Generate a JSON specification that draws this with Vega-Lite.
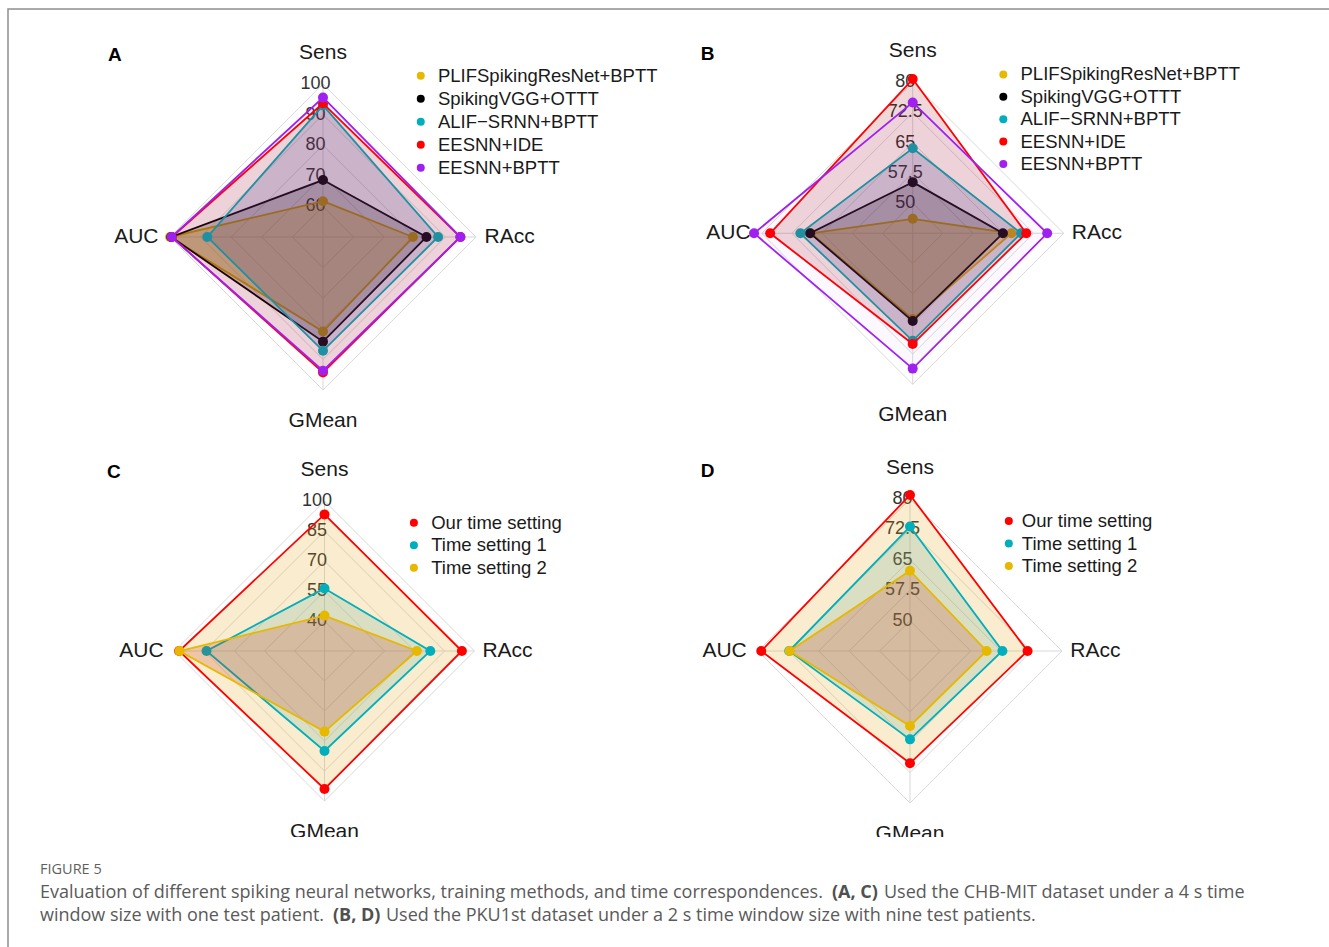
{
  "$schema": "https://vega.github.io/schema/vega-lite/v6.json",
  "width": 1343,
  "height": 959,
  "autosize": {"type": "none"},
  "padding": {"left": 8, "top": 9, "right": -22, "bottom": -21},
  "background": "white",
  "config": {
    "view": {"stroke": "#8f8f8f", "strokeWidth": 1.5},
    "text": {"font": "Liberation Sans"}
  },
  "datasets": {
    "radar": [
      {"panel": "A", "series": "ring", "tick": 60},
      {"panel": "A", "series": "ring", "tick": 70},
      {"panel": "A", "series": "ring", "tick": 80},
      {"panel": "A", "series": "ring", "tick": 90},
      {"panel": "A", "series": "ring", "tick": 100},
      {"panel": "A", "series": "PLIFSpikingResNet+BPTT", "Sens": 61.7, "RAcc": 79.4, "GMean": 80.9, "AUC": 100},
      {"panel": "A", "series": "SpikingVGG+OTTT", "Sens": 68.6, "RAcc": 83.8, "GMean": 84.2, "AUC": 99.6},
      {"panel": "A", "series": "ALIF−SRNN+BPTT", "Sens": 93.0, "RAcc": 87.6, "GMean": 87.2, "AUC": 87.8},
      {"panel": "A", "series": "EESNN+IDE", "Sens": 93.7, "RAcc": 94.9, "GMean": 94.3, "AUC": 99.4},
      {"panel": "A", "series": "EESNN+BPTT", "Sens": 95.6, "RAcc": 94.9, "GMean": 93.7, "AUC": 99.5},
      {"panel": "B", "series": "ring", "tick": 50},
      {"panel": "B", "series": "ring", "tick": 57.5},
      {"panel": "B", "series": "ring", "tick": 65},
      {"panel": "B", "series": "ring", "tick": 72.5},
      {"panel": "B", "series": "ring", "tick": 80},
      {"panel": "B", "series": "PLIFSpikingResNet+BPTT", "Sens": 46.1, "RAcc": 67.0, "GMean": 63.8, "AUC": 67.8},
      {"panel": "B", "series": "SpikingVGG+OTTT", "Sens": 55.2, "RAcc": 64.9, "GMean": 64.3, "AUC": 68.0},
      {"panel": "B", "series": "ALIF−SRNN+BPTT", "Sens": 63.6, "RAcc": 69.4, "GMean": 69.2, "AUC": 70.4},
      {"panel": "B", "series": "EESNN+IDE", "Sens": 80.8, "RAcc": 70.7, "GMean": 70.0, "AUC": 77.9},
      {"panel": "B", "series": "EESNN+BPTT", "Sens": 75.0, "RAcc": 75.9, "GMean": 76.1, "AUC": 81.9},
      {"panel": "C", "series": "ring", "tick": 40},
      {"panel": "C", "series": "ring", "tick": 55},
      {"panel": "C", "series": "ring", "tick": 70},
      {"panel": "C", "series": "ring", "tick": 85},
      {"panel": "C", "series": "ring", "tick": 100},
      {"panel": "C", "series": "Our time setting", "Sens": 93.3, "RAcc": 93.7, "GMean": 94.0, "AUC": 97.7},
      {"panel": "C", "series": "Time setting 1", "Sens": 56.3, "RAcc": 77.9, "GMean": 75.0, "AUC": 84.0},
      {"panel": "C", "series": "Time setting 2", "Sens": 42.7, "RAcc": 71.2, "GMean": 65.3, "AUC": 97.5},
      {"panel": "D", "series": "ring", "tick": 50},
      {"panel": "D", "series": "ring", "tick": 57.5},
      {"panel": "D", "series": "ring", "tick": 65},
      {"panel": "D", "series": "ring", "tick": 72.5},
      {"panel": "D", "series": "ring", "tick": 80},
      {"panel": "D", "series": "Our time setting", "Sens": 81.0, "RAcc": 71.5, "GMean": 70.2, "AUC": 79.2},
      {"panel": "D", "series": "Time setting 1", "Sens": 73.2, "RAcc": 65.3, "GMean": 64.3, "AUC": 72.3},
      {"panel": "D", "series": "Time setting 2", "Sens": 62.3, "RAcc": 61.4, "GMean": 61.0, "AUC": 72.2}
    ],
    "caption": [
      {"line": 0, "part": "a", "text": "FIGURE 5"},
      {"line": 1, "part": "a", "text": "Evaluation of different spiking neural networks, training methods, and time correspondences."},
      {"line": 1, "part": "b", "text": "(A, C)"},
      {"line": 1, "part": "c", "text": "Used the CHB-MIT dataset under a 4 s time"},
      {"line": 2, "part": "a", "text": "window size with one test patient."},
      {"line": 2, "part": "b", "text": "(B, D)"},
      {"line": 2, "part": "c", "text": "Used the PKU1st dataset under a 2 s time window size with nine test patients."}
    ]
  },
  "data": {"name": "radar"},
  "transform": [
    {"fold": ["Sens", "RAcc", "GMean", "AUC"], "as": ["metric", "v"]},
    {"calculate": "datum.series == 'ring' ? datum.tick : datum.v", "as": "value"},
    {"calculate": "indexof(['Sens','RAcc','GMean','AUC'], datum.metric)", "as": "k"},
    {"calculate": "datum.metric == 'RAcc' ? 1 : datum.metric == 'AUC' ? -1 : 0", "as": "dx"},
    {"calculate": "datum.metric == 'Sens' ? 1 : datum.metric == 'GMean' ? -1 : 0", "as": "dy"},
    {"calculate": "datum.dx * 1.22", "as": "lx"},
    {"calculate": "datum.dy * 1.205", "as": "ly"},
    {"calculate": "indexof(['PLIFSpikingResNet+BPTT','SpikingVGG+OTTT','ALIF−SRNN+BPTT','EESNN+IDE','EESNN+BPTT','Our time setting','Time setting 1','Time setting 2'], datum.series) % 5", "as": "rank"}
  ],
  "resolve": {
    "scale": {"x": "independent", "y": "independent", "color": "independent", "fill": "independent", "stroke": "independent"}
  },
  "layer": [
    {
      "transform": [
        {"filter": "datum.panel == 'A'"},
        {"calculate": "(datum.value - 50) / 50", "as": "r"},
        {"calculate": "datum.dx * datum.r", "as": "px"},
        {"calculate": "datum.dy * datum.r", "as": "py"},
        {"calculate": "1.054 - 0.1503 * datum.rank", "as": "legy"}
      ],
      "encoding": {
        "x": {"field": "px", "type": "quantitative", "scale": {"domain": [-2.0588, 6.719], "nice": false, "zero": false}, "axis": null},
        "y": {"field": "py", "type": "quantitative", "scale": {"domain": [-4.7778, 1.4902], "nice": false, "zero": false}, "axis": null}
      },
      "layer": [
        {"transform": [{"filter": "datum.series == 'ring'"}], "mark": {"type": "line", "interpolate": "linear-closed", "stroke": "#d9d9d9", "strokeWidth": 1}, "encoding": {"detail": {"field": "tick", "type": "nominal"}, "order": {"field": "k", "type": "quantitative"}}},
        {"transform": [{"filter": "datum.series == 'ring' && datum.tick == 100"}], "mark": {"type": "rule", "stroke": "#d9d9d9", "strokeWidth": 1}, "encoding": {"x2": {"datum": 0}, "y2": {"datum": 0}}},
        {"transform": [{"filter": "datum.series == 'ring' && datum.metric == 'Sens'"}], "mark": {"type": "text", "dx": -7.5, "fontSize": 18, "fill": "#333333", "align": "center", "baseline": "middle"}, "encoding": {"text": {"field": "tick", "type": "nominal"}}},
        {"transform": [{"filter": "datum.series == 'ring' && datum.tick == 100"}], "mark": {"type": "text", "fontSize": 21, "fill": "#1a1a1a", "align": "center", "baseline": "middle"}, "encoding": {"x": {"field": "lx", "type": "quantitative"}, "y": {"field": "ly", "type": "quantitative"}, "text": {"field": "metric", "type": "nominal"}}},
        {"transform": [{"filter": "datum.series == 'ring' && datum.tick == 100 && datum.metric == 'Sens'"}], "mark": {"type": "text", "fontSize": 19, "fontWeight": "bold", "fill": "#000000", "align": "center", "baseline": "middle"}, "encoding": {"x": {"datum": -1.36}, "y": {"datum": 1.19}, "text": {"value": "A"}}},

        {"transform": [{"filter": "datum.series == 'PLIFSpikingResNet+BPTT'"}], "mark": {"type": "line", "interpolate": "linear-closed", "strokeWidth": 1.8},
         "encoding": {"order": {"field": "k", "type": "quantitative"},
          "stroke": {"field": "series", "type": "nominal", "scale": {"domain": ["PLIFSpikingResNet+BPTT", "SpikingVGG+OTTT", "ALIF−SRNN+BPTT", "EESNN+IDE", "EESNN+BPTT"], "range": ["#E7B800", "#000000", "#00AFBB", "#FF0000", "#A020F0"]}, "legend": null},
          "fill": {"field": "series", "type": "nominal", "scale": {"domain": ["PLIFSpikingResNet+BPTT", "SpikingVGG+OTTT", "ALIF−SRNN+BPTT", "EESNN+IDE", "EESNN+BPTT"], "range": ["rgba(255,191,0,0.3)", "rgba(0,0,0,0.22)", "rgba(50,70,160,0.2)", "rgba(160,10,10,0.16)", "rgba(160,32,240,0.03)"]}, "legend": null}}},
        {"transform": [{"filter": "datum.series == 'PLIFSpikingResNet+BPTT'"}], "mark": {"type": "point", "filled": true, "size": 100, "opacity": 1},
         "encoding": {"color": {"field": "series", "type": "nominal", "scale": {"domain": ["PLIFSpikingResNet+BPTT", "SpikingVGG+OTTT", "ALIF−SRNN+BPTT", "EESNN+IDE", "EESNN+BPTT"], "range": ["#E7B800", "#000000", "#00AFBB", "#FF0000", "#A020F0"]}, "legend": null}}},

        {"transform": [{"filter": "datum.series == 'SpikingVGG+OTTT'"}], "mark": {"type": "line", "interpolate": "linear-closed", "strokeWidth": 1.8},
         "encoding": {"order": {"field": "k", "type": "quantitative"}, "stroke": {"field": "series", "type": "nominal", "legend": null}, "fill": {"field": "series", "type": "nominal", "legend": null}}},
        {"transform": [{"filter": "datum.series == 'SpikingVGG+OTTT'"}], "mark": {"type": "point", "filled": true, "size": 100, "opacity": 1}, "encoding": {"color": {"field": "series", "type": "nominal", "legend": null}}},

        {"transform": [{"filter": "datum.series == 'ALIF−SRNN+BPTT'"}], "mark": {"type": "line", "interpolate": "linear-closed", "strokeWidth": 1.8},
         "encoding": {"order": {"field": "k", "type": "quantitative"}, "stroke": {"field": "series", "type": "nominal", "legend": null}, "fill": {"field": "series", "type": "nominal", "legend": null}}},
        {"transform": [{"filter": "datum.series == 'ALIF−SRNN+BPTT'"}], "mark": {"type": "point", "filled": true, "size": 100, "opacity": 1}, "encoding": {"color": {"field": "series", "type": "nominal", "legend": null}}},

        {"transform": [{"filter": "datum.series == 'EESNN+IDE'"}], "mark": {"type": "line", "interpolate": "linear-closed", "strokeWidth": 1.8},
         "encoding": {"order": {"field": "k", "type": "quantitative"}, "stroke": {"field": "series", "type": "nominal", "legend": null}, "fill": {"field": "series", "type": "nominal", "legend": null}}},
        {"transform": [{"filter": "datum.series == 'EESNN+IDE'"}], "mark": {"type": "point", "filled": true, "size": 100, "opacity": 1}, "encoding": {"color": {"field": "series", "type": "nominal", "legend": null}}},

        {"transform": [{"filter": "datum.series == 'EESNN+BPTT'"}], "mark": {"type": "line", "interpolate": "linear-closed", "strokeWidth": 1.8},
         "encoding": {"order": {"field": "k", "type": "quantitative"}, "stroke": {"field": "series", "type": "nominal", "legend": null}, "fill": {"field": "series", "type": "nominal", "legend": null}}},
        {"transform": [{"filter": "datum.series == 'EESNN+BPTT'"}], "mark": {"type": "point", "filled": true, "size": 100, "opacity": 1}, "encoding": {"color": {"field": "series", "type": "nominal", "legend": null}}},

        {"transform": [{"filter": "datum.series != 'ring' && datum.metric == 'Sens'"}], "mark": {"type": "point", "filled": true, "size": 64, "opacity": 1},
         "encoding": {"x": {"datum": 0.639}, "y": {"field": "legy", "type": "quantitative"}, "color": {"field": "series", "type": "nominal", "legend": null}}},
        {"transform": [{"filter": "datum.series != 'ring' && datum.metric == 'Sens'"}], "mark": {"type": "text", "dx": 17.2, "fontSize": 18.5, "fill": "#1a1a1a", "align": "left", "baseline": "middle"},
         "encoding": {"x": {"datum": 0.639}, "y": {"field": "legy", "type": "quantitative"}, "text": {"field": "series", "type": "nominal"}}}
      ]
    },
    {
      "transform": [
        {"filter": "datum.panel == 'B'"},
        {"calculate": "(datum.value - 42.5) / 37.5", "as": "r"},
        {"calculate": "datum.dx * datum.r", "as": "px"},
        {"calculate": "datum.dy * datum.r", "as": "py"},
        {"calculate": "1.052 - 0.1483 * datum.rank", "as": "legy"}
      ],
      "encoding": {
        "x": {"field": "px", "type": "quantitative", "scale": {"domain": [-5.9914, 2.9026], "nice": false, "zero": false}, "axis": null},
        "y": {"field": "py", "type": "quantitative", "scale": {"domain": [-4.8656, 1.4854], "nice": false, "zero": false}, "axis": null}
      },
      "layer": [
        {"transform": [{"filter": "datum.series == 'ring'"}], "mark": {"type": "line", "interpolate": "linear-closed", "stroke": "#d9d9d9", "strokeWidth": 1}, "encoding": {"detail": {"field": "tick", "type": "nominal"}, "order": {"field": "k", "type": "quantitative"}}},
        {"transform": [{"filter": "datum.series == 'ring' && datum.tick == 80"}], "mark": {"type": "rule", "stroke": "#d9d9d9", "strokeWidth": 1}, "encoding": {"x2": {"datum": 0}, "y2": {"datum": 0}}},
        {"transform": [{"filter": "datum.series == 'ring' && datum.metric == 'Sens'"}], "mark": {"type": "text", "dx": -7.5, "fontSize": 18, "fill": "#333333", "align": "center", "baseline": "middle"}, "encoding": {"text": {"field": "tick", "type": "nominal"}}},
        {"transform": [{"filter": "datum.series == 'ring' && datum.tick == 80"}], "mark": {"type": "text", "fontSize": 21, "fill": "#1a1a1a", "align": "center", "baseline": "middle"}, "encoding": {"x": {"field": "lx", "type": "quantitative"}, "y": {"field": "ly", "type": "quantitative"}, "text": {"field": "metric", "type": "nominal"}}},
        {"transform": [{"filter": "datum.series == 'ring' && datum.tick == 80 && datum.metric == 'Sens'"}], "mark": {"type": "text", "fontSize": 19, "fontWeight": "bold", "fill": "#000000", "align": "center", "baseline": "middle"}, "encoding": {"x": {"datum": -1.358}, "y": {"datum": 1.187}, "text": {"value": "B"}}},

        {"transform": [{"filter": "datum.series == 'PLIFSpikingResNet+BPTT'"}], "mark": {"type": "line", "interpolate": "linear-closed", "strokeWidth": 1.8},
         "encoding": {"order": {"field": "k", "type": "quantitative"},
          "stroke": {"field": "series", "type": "nominal", "scale": {"domain": ["PLIFSpikingResNet+BPTT", "SpikingVGG+OTTT", "ALIF−SRNN+BPTT", "EESNN+IDE", "EESNN+BPTT"], "range": ["#E7B800", "#000000", "#00AFBB", "#FF0000", "#A020F0"]}, "legend": null},
          "fill": {"field": "series", "type": "nominal", "scale": {"domain": ["PLIFSpikingResNet+BPTT", "SpikingVGG+OTTT", "ALIF−SRNN+BPTT", "EESNN+IDE", "EESNN+BPTT"], "range": ["rgba(255,191,0,0.3)", "rgba(0,0,0,0.22)", "rgba(50,70,160,0.2)", "rgba(160,10,10,0.16)", "rgba(160,32,240,0.03)"]}, "legend": null}}},
        {"transform": [{"filter": "datum.series == 'PLIFSpikingResNet+BPTT'"}], "mark": {"type": "point", "filled": true, "size": 100, "opacity": 1},
         "encoding": {"color": {"field": "series", "type": "nominal", "scale": {"domain": ["PLIFSpikingResNet+BPTT", "SpikingVGG+OTTT", "ALIF−SRNN+BPTT", "EESNN+IDE", "EESNN+BPTT"], "range": ["#E7B800", "#000000", "#00AFBB", "#FF0000", "#A020F0"]}, "legend": null}}},

        {"transform": [{"filter": "datum.series == 'SpikingVGG+OTTT'"}], "mark": {"type": "line", "interpolate": "linear-closed", "strokeWidth": 1.8},
         "encoding": {"order": {"field": "k", "type": "quantitative"}, "stroke": {"field": "series", "type": "nominal", "legend": null}, "fill": {"field": "series", "type": "nominal", "legend": null}}},
        {"transform": [{"filter": "datum.series == 'SpikingVGG+OTTT'"}], "mark": {"type": "point", "filled": true, "size": 100, "opacity": 1}, "encoding": {"color": {"field": "series", "type": "nominal", "legend": null}}},

        {"transform": [{"filter": "datum.series == 'ALIF−SRNN+BPTT'"}], "mark": {"type": "line", "interpolate": "linear-closed", "strokeWidth": 1.8},
         "encoding": {"order": {"field": "k", "type": "quantitative"}, "stroke": {"field": "series", "type": "nominal", "legend": null}, "fill": {"field": "series", "type": "nominal", "legend": null}}},
        {"transform": [{"filter": "datum.series == 'ALIF−SRNN+BPTT'"}], "mark": {"type": "point", "filled": true, "size": 100, "opacity": 1}, "encoding": {"color": {"field": "series", "type": "nominal", "legend": null}}},

        {"transform": [{"filter": "datum.series == 'EESNN+IDE'"}], "mark": {"type": "line", "interpolate": "linear-closed", "strokeWidth": 1.8},
         "encoding": {"order": {"field": "k", "type": "quantitative"}, "stroke": {"field": "series", "type": "nominal", "legend": null}, "fill": {"field": "series", "type": "nominal", "legend": null}}},
        {"transform": [{"filter": "datum.series == 'EESNN+IDE'"}], "mark": {"type": "point", "filled": true, "size": 100, "opacity": 1}, "encoding": {"color": {"field": "series", "type": "nominal", "legend": null}}},

        {"transform": [{"filter": "datum.series == 'EESNN+BPTT'"}], "mark": {"type": "line", "interpolate": "linear-closed", "strokeWidth": 1.8},
         "encoding": {"order": {"field": "k", "type": "quantitative"}, "stroke": {"field": "series", "type": "nominal", "legend": null}, "fill": {"field": "series", "type": "nominal", "legend": null}}},
        {"transform": [{"filter": "datum.series == 'EESNN+BPTT'"}], "mark": {"type": "point", "filled": true, "size": 100, "opacity": 1}, "encoding": {"color": {"field": "series", "type": "nominal", "legend": null}}},

        {"transform": [{"filter": "datum.series != 'ring' && datum.metric == 'Sens'"}], "mark": {"type": "point", "filled": true, "size": 64, "opacity": 1},
         "encoding": {"x": {"datum": 0.6}, "y": {"field": "legy", "type": "quantitative"}, "color": {"field": "series", "type": "nominal", "legend": null}}},
        {"transform": [{"filter": "datum.series != 'ring' && datum.metric == 'Sens'"}], "mark": {"type": "text", "dx": 17.2, "fontSize": 18.5, "fill": "#1a1a1a", "align": "left", "baseline": "middle"},
         "encoding": {"x": {"datum": 0.6}, "y": {"field": "legy", "type": "quantitative"}, "text": {"field": "series", "type": "nominal"}}}
      ]
    },
    {
      "transform": [
        {"filter": "datum.panel == 'C'"},
        {"calculate": "(datum.value - 25) / 75", "as": "r"},
        {"calculate": "datum.dx * datum.r", "as": "px"},
        {"calculate": "datum.dy * datum.r", "as": "py"},
        {"calculate": "0.855 - 0.15 * datum.rank", "as": "legy"}
      ],
      "encoding": {
        "x": {"field": "px", "type": "quantitative", "scale": {"domain": [-2.11, 6.8433], "nice": false, "zero": false}, "axis": null},
        "y": {"field": "py", "type": "quantitative", "scale": {"domain": [-2.1133, 4.28], "nice": false, "zero": false}, "axis": null}
      },
      "layer": [
        {"transform": [{"filter": "datum.series == 'ring'"}], "mark": {"type": "line", "interpolate": "linear-closed", "stroke": "#d9d9d9", "strokeWidth": 1}, "encoding": {"detail": {"field": "tick", "type": "nominal"}, "order": {"field": "k", "type": "quantitative"}}},
        {"transform": [{"filter": "datum.series == 'ring' && datum.tick == 100"}], "mark": {"type": "rule", "stroke": "#d9d9d9", "strokeWidth": 1}, "encoding": {"x2": {"datum": 0}, "y2": {"datum": 0}}},
        {"transform": [{"filter": "datum.series == 'ring' && datum.metric == 'Sens'"}], "mark": {"type": "text", "dx": -7.5, "fontSize": 18, "fill": "#333333", "align": "center", "baseline": "middle"}, "encoding": {"text": {"field": "tick", "type": "nominal"}}},
        {"transform": [{"filter": "datum.series == 'ring' && datum.tick == 100"}], "mark": {"type": "text", "fontSize": 21, "fill": "#1a1a1a", "align": "center", "baseline": "middle"}, "encoding": {"x": {"field": "lx", "type": "quantitative"}, "y": {"field": "ly", "type": "quantitative"}, "text": {"field": "metric", "type": "nominal"}}},
        {"transform": [{"filter": "datum.series == 'ring' && datum.tick == 100 && datum.metric == 'Sens'"}], "mark": {"type": "text", "fontSize": 19, "fontWeight": "bold", "fill": "#000000", "align": "center", "baseline": "middle"}, "encoding": {"x": {"datum": -1.405}, "y": {"datum": 1.195}, "text": {"value": "C"}}},

        {"transform": [{"filter": "datum.series == 'Our time setting'"}], "mark": {"type": "line", "interpolate": "linear-closed", "strokeWidth": 1.8},
         "encoding": {"order": {"field": "k", "type": "quantitative"},
          "stroke": {"field": "series", "type": "nominal", "scale": {"domain": ["Our time setting", "Time setting 1", "Time setting 2"], "range": ["#FF0000", "#00AFBB", "#E7B800"]}, "legend": null},
          "fill": {"field": "series", "type": "nominal", "scale": {"domain": ["Our time setting", "Time setting 1", "Time setting 2"], "range": ["rgba(230,160,10,0.2)", "rgba(90,176,156,0.2)", "rgba(195,45,15,0.2)"]}, "legend": null}}},
        {"transform": [{"filter": "datum.series == 'Our time setting'"}], "mark": {"type": "point", "filled": true, "size": 100, "opacity": 1},
         "encoding": {"color": {"field": "series", "type": "nominal", "scale": {"domain": ["Our time setting", "Time setting 1", "Time setting 2"], "range": ["#FF0000", "#00AFBB", "#E7B800"]}, "legend": null}}},

        {"transform": [{"filter": "datum.series == 'Time setting 1'"}], "mark": {"type": "line", "interpolate": "linear-closed", "strokeWidth": 1.8},
         "encoding": {"order": {"field": "k", "type": "quantitative"}, "stroke": {"field": "series", "type": "nominal", "legend": null}, "fill": {"field": "series", "type": "nominal", "legend": null}}},
        {"transform": [{"filter": "datum.series == 'Time setting 1'"}], "mark": {"type": "point", "filled": true, "size": 100, "opacity": 1}, "encoding": {"color": {"field": "series", "type": "nominal", "legend": null}}},

        {"transform": [{"filter": "datum.series == 'Time setting 2'"}], "mark": {"type": "line", "interpolate": "linear-closed", "strokeWidth": 1.8},
         "encoding": {"order": {"field": "k", "type": "quantitative"}, "stroke": {"field": "series", "type": "nominal", "legend": null}, "fill": {"field": "series", "type": "nominal", "legend": null}}},
        {"transform": [{"filter": "datum.series == 'Time setting 2'"}], "mark": {"type": "point", "filled": true, "size": 100, "opacity": 1}, "encoding": {"color": {"field": "series", "type": "nominal", "legend": null}}},

        {"transform": [{"filter": "datum.series != 'ring' && datum.metric == 'Sens'"}], "mark": {"type": "point", "filled": true, "size": 64, "opacity": 1},
         "encoding": {"x": {"datum": 0.596}, "y": {"field": "legy", "type": "quantitative"}, "color": {"field": "series", "type": "nominal", "legend": null}}},
        {"transform": [{"filter": "datum.series != 'ring' && datum.metric == 'Sens'"}], "mark": {"type": "text", "dx": 17.3, "fontSize": 18.5, "fill": "#1a1a1a", "align": "left", "baseline": "middle"},
         "encoding": {"x": {"datum": 0.596}, "y": {"field": "legy", "type": "quantitative"}, "text": {"field": "series", "type": "nominal"}}}
      ]
    },
    {
      "transform": [
        {"filter": "datum.panel == 'D'"},
        {"calculate": "(datum.value - 42.5) / 37.5", "as": "r"},
        {"calculate": "datum.dx * datum.r", "as": "px"},
        {"calculate": "datum.dy * datum.r", "as": "py"},
        {"calculate": "0.855 - 0.148 * datum.rank", "as": "legy"}
      ],
      "encoding": {
        "x": {"field": "px", "type": "quantitative", "scale": {"domain": [-5.9342, 2.9013], "nice": false, "zero": false}, "axis": null},
        "y": {"field": "py", "type": "quantitative", "scale": {"domain": [-2.0855, 4.2237], "nice": false, "zero": false}, "axis": null}
      },
      "layer": [
        {"transform": [{"filter": "datum.series == 'ring'"}], "mark": {"type": "line", "interpolate": "linear-closed", "stroke": "#d9d9d9", "strokeWidth": 1}, "encoding": {"detail": {"field": "tick", "type": "nominal"}, "order": {"field": "k", "type": "quantitative"}}},
        {"transform": [{"filter": "datum.series == 'ring' && datum.tick == 80"}], "mark": {"type": "rule", "stroke": "#d9d9d9", "strokeWidth": 1}, "encoding": {"x2": {"datum": 0}, "y2": {"datum": 0}}},
        {"transform": [{"filter": "datum.series == 'ring' && datum.metric == 'Sens'"}], "mark": {"type": "text", "dx": -7.5, "fontSize": 18, "fill": "#333333", "align": "center", "baseline": "middle"}, "encoding": {"text": {"field": "tick", "type": "nominal"}}},
        {"transform": [{"filter": "datum.series == 'ring' && datum.tick == 80"}], "mark": {"type": "text", "fontSize": 21, "fill": "#1a1a1a", "align": "center", "baseline": "middle"}, "encoding": {"x": {"field": "lx", "type": "quantitative"}, "y": {"field": "ly", "type": "quantitative"}, "text": {"field": "metric", "type": "nominal"}}},
        {"transform": [{"filter": "datum.series == 'ring' && datum.tick == 80 && datum.metric == 'Sens'"}], "mark": {"type": "text", "fontSize": 19, "fontWeight": "bold", "fill": "#000000", "align": "center", "baseline": "middle"}, "encoding": {"x": {"datum": -1.331}, "y": {"datum": 1.186}, "text": {"value": "D"}}},

        {"transform": [{"filter": "datum.series == 'Our time setting'"}], "mark": {"type": "line", "interpolate": "linear-closed", "strokeWidth": 1.8},
         "encoding": {"order": {"field": "k", "type": "quantitative"},
          "stroke": {"field": "series", "type": "nominal", "scale": {"domain": ["Our time setting", "Time setting 1", "Time setting 2"], "range": ["#FF0000", "#00AFBB", "#E7B800"]}, "legend": null},
          "fill": {"field": "series", "type": "nominal", "scale": {"domain": ["Our time setting", "Time setting 1", "Time setting 2"], "range": ["rgba(230,160,10,0.2)", "rgba(90,176,156,0.2)", "rgba(195,45,15,0.2)"]}, "legend": null}}},
        {"transform": [{"filter": "datum.series == 'Our time setting'"}], "mark": {"type": "point", "filled": true, "size": 100, "opacity": 1},
         "encoding": {"color": {"field": "series", "type": "nominal", "scale": {"domain": ["Our time setting", "Time setting 1", "Time setting 2"], "range": ["#FF0000", "#00AFBB", "#E7B800"]}, "legend": null}}},

        {"transform": [{"filter": "datum.series == 'Time setting 1'"}], "mark": {"type": "line", "interpolate": "linear-closed", "strokeWidth": 1.8},
         "encoding": {"order": {"field": "k", "type": "quantitative"}, "stroke": {"field": "series", "type": "nominal", "legend": null}, "fill": {"field": "series", "type": "nominal", "legend": null}}},
        {"transform": [{"filter": "datum.series == 'Time setting 1'"}], "mark": {"type": "point", "filled": true, "size": 100, "opacity": 1}, "encoding": {"color": {"field": "series", "type": "nominal", "legend": null}}},

        {"transform": [{"filter": "datum.series == 'Time setting 2'"}], "mark": {"type": "line", "interpolate": "linear-closed", "strokeWidth": 1.8},
         "encoding": {"order": {"field": "k", "type": "quantitative"}, "stroke": {"field": "series", "type": "nominal", "legend": null}, "fill": {"field": "series", "type": "nominal", "legend": null}}},
        {"transform": [{"filter": "datum.series == 'Time setting 2'"}], "mark": {"type": "point", "filled": true, "size": 100, "opacity": 1}, "encoding": {"color": {"field": "series", "type": "nominal", "legend": null}}},

        {"transform": [{"filter": "datum.series != 'ring' && datum.metric == 'Sens'"}], "mark": {"type": "point", "filled": true, "size": 64, "opacity": 1},
         "encoding": {"x": {"datum": 0.65}, "y": {"field": "legy", "type": "quantitative"}, "color": {"field": "series", "type": "nominal", "legend": null}}},
        {"transform": [{"filter": "datum.series != 'ring' && datum.metric == 'Sens'"}], "mark": {"type": "text", "dx": 13, "fontSize": 18.5, "fill": "#1a1a1a", "align": "left", "baseline": "middle"},
         "encoding": {"x": {"datum": 0.65}, "y": {"field": "legy", "type": "quantitative"}, "text": {"field": "series", "type": "nominal"}}}
      ]
    },
    {
      "data": {"name": "caption"},
      "encoding": {
        "x": {"datum": 0, "type": "quantitative", "scale": {"domain": [-32, 1311], "nice": false, "zero": false}, "axis": null},
        "y": {"field": "line", "type": "quantitative", "scale": {"domain": [-37.435, 4.261], "reverse": true, "nice": false, "zero": false}, "axis": null}
      },
      "layer": [
        {"transform": [{"filter": "datum.line == 0"}], "mark": {"type": "rect", "fill": "white", "stroke": null},
         "encoding": {"x": {"datum": -30}, "x2": {"datum": 1400}, "y": {"datum": -1.435}, "y2": {"datum": 6}}},
        {"transform": [{"filter": "datum.line == 0"}], "mark": {"type": "text", "font": "Open Sans", "fontSize": 14.5, "fill": "#5f5f5f", "align": "left", "baseline": "middle"}, "encoding": {"text": {"field": "text", "type": "nominal"}}},
        {"transform": [{"filter": "datum.line > 0 && datum.part == 'a'"}], "mark": {"type": "text", "font": "Open Sans", "fontSize": 18, "fill": "#5a5a5a", "align": "left", "baseline": "middle"}, "encoding": {"text": {"field": "text", "type": "nominal"}}},
        {"transform": [{"filter": "datum.line == 1 && datum.part == 'b'"}], "mark": {"type": "text", "font": "Open Sans", "fontSize": 18, "fontWeight": "bold", "fill": "#505050", "align": "left", "baseline": "middle"}, "encoding": {"x": {"datum": 792}, "text": {"field": "text", "type": "nominal"}}},
        {"transform": [{"filter": "datum.line == 1 && datum.part == 'c'"}], "mark": {"type": "text", "font": "Open Sans", "fontSize": 18, "fill": "#5a5a5a", "align": "left", "baseline": "middle"}, "encoding": {"x": {"datum": 844}, "text": {"field": "text", "type": "nominal"}}},
        {"transform": [{"filter": "datum.line == 2 && datum.part == 'b'"}], "mark": {"type": "text", "font": "Open Sans", "fontSize": 18, "fontWeight": "bold", "fill": "#505050", "align": "left", "baseline": "middle"}, "encoding": {"x": {"datum": 293}, "text": {"field": "text", "type": "nominal"}}},
        {"transform": [{"filter": "datum.line == 2 && datum.part == 'c'"}], "mark": {"type": "text", "font": "Open Sans", "fontSize": 18, "fill": "#5a5a5a", "align": "left", "baseline": "middle"}, "encoding": {"x": {"datum": 346}, "text": {"field": "text", "type": "nominal"}}}
      ]
    }
  ]
}
